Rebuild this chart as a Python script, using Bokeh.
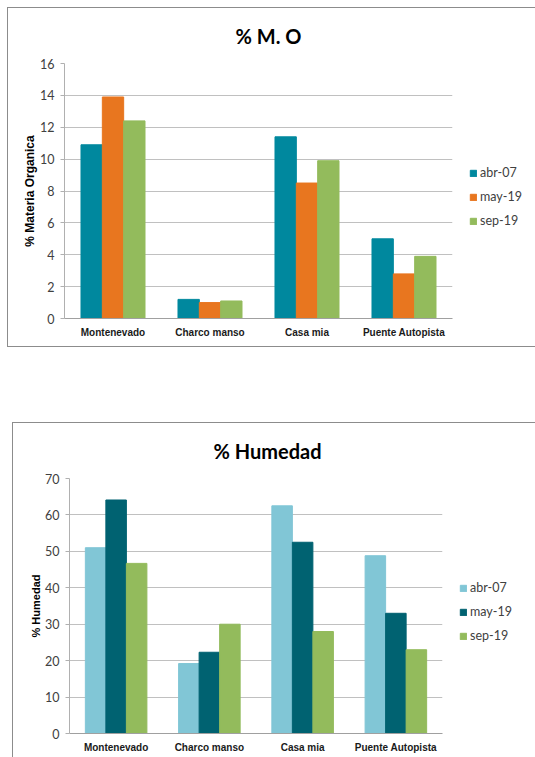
from bokeh.plotting import figure
from bokeh.models import ColumnDataSource, FactorRange, Legend, LegendItem, Range1d, SingleIntervalTicker
from bokeh.layouts import column
from bokeh.transform import dodge
from bokeh.embed import file_html
from bokeh.resources import INLINE

sites = ["Montenevado", "Charco manso", "Casa mia", "Puente Autopista"]
series = ["abr-07", "may-19", "sep-19"]

mo_abr07 = [10.9, 1.2, 11.4, 5.0]
mo_may19 = [13.9, 1.0, 8.5, 2.8]
mo_sep19 = [12.4, 1.1, 9.9, 3.9]

hum_abr07 = [51.0, 19.2, 62.5, 48.8]
hum_may19 = [64.1, 22.3, 52.5, 33.0]
hum_sep19 = [46.7, 30.0, 28.0, 23.0]

mo_colors = ["#00889E", "#E8761F", "#93BB5C"]
hum_colors = ["#81C6D6", "#006271", "#93BB5C"]

TICK_FONT = "Lato"
BOLD_FONT = "Liberation Sans"


def make_chart(title, title_offset, ylabel, ylabel_size, values, colors, ymax, ystep, frame_w, frame_h,
               b_left, b_top, b_right, b_bottom, shadow):
    src = ColumnDataSource(data=dict(site=sites, s0=values[0], s1=values[1], s2=values[2]))
    p = figure(x_range=FactorRange(*sites), y_range=Range1d(0, ymax),
               frame_width=frame_w, frame_height=frame_h, output_backend="svg", toolbar_location=None,
               min_border_left=b_left, min_border_top=b_top, min_border_right=b_right,
               min_border_bottom=b_bottom, border_fill_color=None, outline_line_color=None)
    p.styles = {"box-shadow": shadow}
    p.title.text = title
    p.title.align = "left"
    p.title.vertical_align = "middle"
    p.title.offset = title_offset
    p.title.text_font = TICK_FONT
    p.title.text_font_style = "bold"
    p.title.text_font_size = "20px"
    p.title.text_color = "#000000"
    p.title.standoff = 30

    renderers = []
    offsets = [-0.22, 0.0, 0.22]
    for i, (name, col) in enumerate(zip(series, ["s0", "s1", "s2"])):
        r = p.vbar(x=dodge("site", offsets[i], range=p.x_range), top=col, bottom=0,
                   width=0.22, source=src, fill_color=colors[i], line_color=colors[i])
        renderers.append(r)

    p.yaxis.ticker = SingleIntervalTicker(interval=ystep)
    p.yaxis.axis_label = ylabel
    p.yaxis.axis_label_text_font = BOLD_FONT
    p.yaxis.axis_label_text_font_style = "bold"
    p.yaxis.axis_label_text_font_size = ylabel_size
    p.yaxis.axis_label_text_color = "#000000"
    p.yaxis.axis_label_standoff = 0
    p.yaxis.major_label_text_font = TICK_FONT
    p.yaxis.major_label_text_font_size = "12.5px"
    p.yaxis.major_label_text_color = "#404040"
    p.yaxis.major_label_standoff = 6
    p.yaxis.major_tick_out = 4
    p.yaxis.major_tick_in = 0
    p.yaxis.minor_tick_line_color = None
    p.yaxis.axis_line_color = "#B0B0B0"
    p.yaxis.major_tick_line_color = "#B0B0B0"

    p.xaxis.major_label_text_font = BOLD_FONT
    p.xaxis.major_label_text_font_style = "bold"
    p.xaxis.major_label_text_font_size = "10px"
    p.xaxis.major_label_text_color = "#1A1A1A"
    p.xaxis.major_label_standoff = 2
    p.xaxis.major_tick_line_color = None
    p.xaxis.axis_line_color = "#A0A0A0"

    p.xgrid.grid_line_color = None
    p.ygrid.grid_line_color = "#C0C0C0"

    legend = Legend(items=[LegendItem(label=s, renderers=[r]) for s, r in zip(series, renderers)],
                    location="center_left", orientation="vertical",
                    title=" ", title_text_font_size="8px", title_standoff=3,
                    glyph_width=8, glyph_height=8, label_height=20, spacing=4,
                    label_standoff=3, padding=0, margin=17,
                    label_text_font=TICK_FONT, label_text_font_size="12.5px",
                    label_text_color="#404040",
                    border_line_color=None, background_fill_alpha=0)
    p.add_layout(legend, "right")
    return p


p1 = make_chart("% M. O", 171, "% Materia Organica", "12px", [mo_abr07, mo_may19, mo_sep19], mo_colors,
                16, 2, 388, 255, 57, 5, 83, 29,
                "inset 1px 1px 0 #8C8C8C, inset 0 -1px 0 #8C8C8C")
p2 = make_chart("% Humedad", 144, "% Humedad", "11px", [hum_abr07, hum_may19, hum_sep19], hum_colors,
                70, 10, 373, 255, 57, 5, 79, 24,
                "inset 1px 1px 0 #8C8C8C, inset -1px 0 0 #8C8C8C")
p1.margin = (7, 0, 0, 7)
p2.margin = (0, 0, 0, 12)

layout = column(p1, p2, spacing=75)

open("out.html", "w").write(file_html(layout, INLINE))
